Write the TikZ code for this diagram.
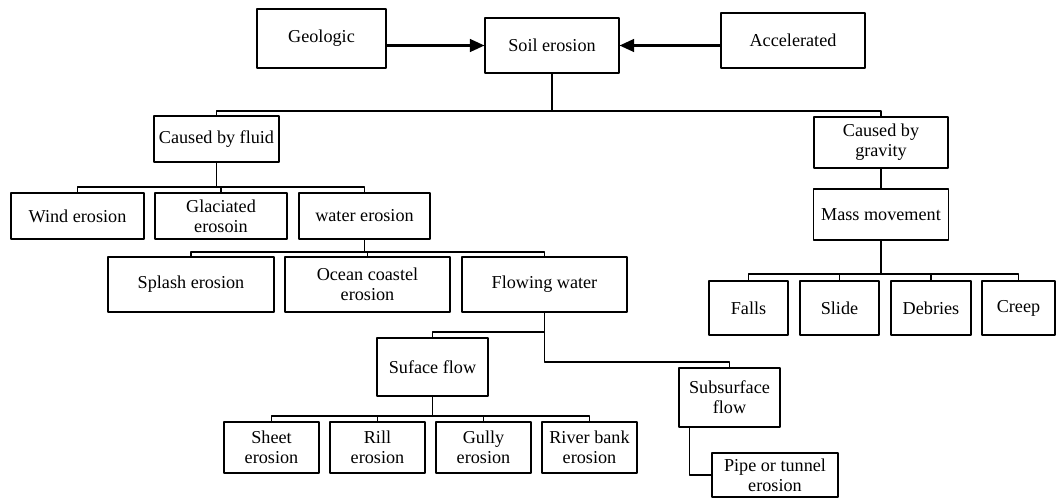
\documentclass[tikz,border=0pt]{standalone}
\usepackage{fontspec}
\setmainfont{Liberation Serif}
\usetikzlibrary{arrows.meta}
\tikzset{bx/.style={draw,line width=0.6pt,align=center,inner sep=1pt,font=\fontsize{10}{11}\selectfont}}
\tikzset{sz/.style 2 args={minimum width=#1*0.55pt,minimum height=#2*0.55pt}}
\tikzset{ln/.style={line width=0.6pt}}
\tikzset{thk/.style={line width=1pt}}
\tikzset{arr/.style={line width=1.2pt,-{Triangle[length=8pt,width=7pt]}}}

\begin{document}
\begin{tikzpicture}[x=0.55pt,y=-0.55pt,line join=round]
  \useasboundingbox (0,0) rectangle (1057,499);
  % top row
  \node[bx,sz={129}{59}] (geo) at (321.5,38.5) {Geologic};
  \node[bx,sz={134}{55}] (soil) at (552,45.5) {Soil erosion};
  \node[bx,sz={144}{55}] (acc) at (793,40.5) {Accelerated};
  \draw[arr] (geo.east |- soil.west) -- (soil.west);
  \draw[arr] (acc.west |- soil.east) -- (soil.east);
  % two causes
  \node[bx,sz={125}{46}] (fluid) at (216.5,139) {Caused by fluid};
  \node[bx,sz={134}{51}] (grav) at (881,142.5) {Caused by\\gravity};
  \draw[ln] (soil.south) -- (soil.south |- 0,111);
  \draw[ln] (fluid.north) |- (grav.north |- 0,111) -- (grav.north);
  % fluid
  \node[bx,sz={133}{46}] (wind) at (77.5,216) {Wind erosion};
  \node[bx,sz={132}{46}] (glac) at (221,216) {Glaciated\\erosoin};
  \node[bx,sz={131}{46}] (water) at (364.5,216) {water erosion};
  \draw[ln] (fluid.south) -- (fluid.south |- 0,187);
  \draw[ln] (wind.north) |- (water.north |- 0,187) -- (water.north);
  \draw[ln] (glac.north) -- (glac.north |- 0,187);
  % water
  \node[bx,sz={166}{55}] (splash) at (191,284.5) {Splash erosion};
  \node[bx,sz={165}{55}] (ocean) at (367.5,284.5) {Ocean coastel\\erosion};
  \node[bx,sz={165}{55}] (flow) at (544.5,284.5) {Flowing water};
  \draw[ln] (water.south) -- (water.south |- 0,252);
  \draw[ln] (splash.north) |- (flow.north |- 0,252) -- (flow.north);
  \draw[ln] (ocean.north) -- (ocean.north |- 0,252);
  % flowing water
  \node[bx,sz={111}{58}] (surf) at (432.5,367) {Suface flow};
  \node[bx,sz={101}{59}] (sub) at (729.5,397.5) {Subsurface\\flow};
  \draw[thk] (flow.south) |- (sub.north |- 0,362) -- (sub.north);
  \draw[ln] (flow.south |- 0,332) -| (surf.north);
  % surface flow
  \node[bx,sz={95}{51}] (sheet) at (271.5,447.5) {Sheet\\erosion};
  \node[bx,sz={95}{51}] (rill) at (377.5,447.5) {Rill\\erosion};
  \node[bx,sz={95}{51}] (gully) at (483.5,447.5) {Gully\\erosion};
  \node[bx,sz={95}{51}] (river) at (589.5,447.5) {River bank\\erosion};
  \draw[thk] (surf.south) -- (surf.south |- 0,416);
  \draw[ln] (sheet.north) |- (river.north |- 0,416) -- (river.north);
  \draw[ln] (rill.north) -- (rill.north |- 0,416);
  \draw[ln] (gully.north) -- (gully.north |- 0,416);
  % subsurface flow
  \node[bx,sz={126}{44}] (pipe) at (775,475) {Pipe or tunnel\\erosion};
  \draw[ln] ([xshift=11*0.55pt]sub.south west) |- (pipe.west);
  % gravity
  \node[bx,sz={135}{51}] (mass) at (881,214.5) {Mass movement};
  \draw[ln] (grav.south) -- (mass.north);
  \node[bx,sz={79}{54}] (falls) at (748.5,308) {Falls};
  \node[bx,sz={79}{54}] (slide) at (839.5,308) {Slide};
  \node[bx,sz={80}{54}] (deb) at (931,308) {Debries};
  \node[bx,sz={73}{54}] (creep) at (1018.5,308) {Creep};
  \draw[thk] (mass.south) -- (mass.south |- 0,274);
  \draw[ln] (falls.north) |- (creep.north |- 0,274) -- (creep.north);
  \draw[ln] (slide.north) -- (slide.north |- 0,274);
  \draw[ln] (deb.north) -- (deb.north |- 0,274);
\end{tikzpicture}
\end{document}
